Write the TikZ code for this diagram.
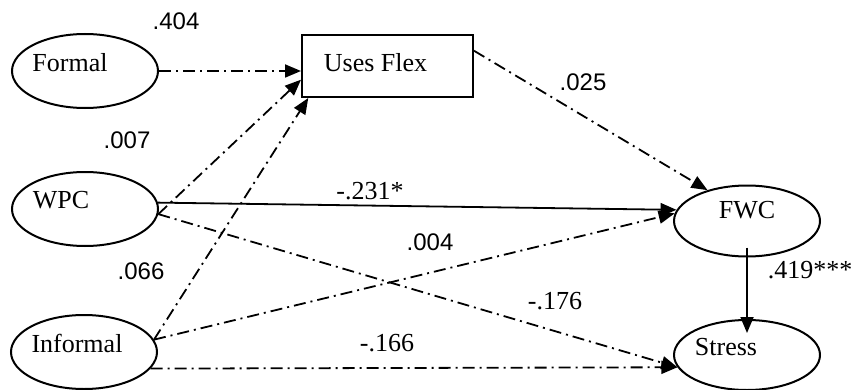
\documentclass[tikz,border=0pt]{standalone}
\usepackage{fontspec}
\setmainfont{Liberation Serif}
\setsansfont{Liberation Sans}
\usetikzlibrary{arrows.meta, shapes.geometric, positioning, calc}

\begin{document}
\begin{tikzpicture}[x=0.5pt, y=-0.5pt,
    var/.style={ellipse, draw=black, line width=1pt, minimum width=73pt, minimum height=37pt, inner sep=0pt},
    blk/.style={rectangle, draw=black, line width=1pt, minimum width=85.5pt, minimum height=31pt},
    txt/.style={font=\fontsize{13}{15}\selectfont},
    e/.style={-{Triangle[length=8pt, width=6.5pt]}, line width=0.9pt},
    dd/.style={e, dash pattern=on 6pt off 2.5pt on 1pt off 2.5pt},
    lab/.style={font=\fontsize{13}{15}\selectfont},
    labs/.style={font=\sffamily\fontsize{12}{14}\selectfont},
]
    \useasboundingbox (0,0) rectangle (855,390);
    \node[var, label={[txt, xshift=-7.5pt, yshift=4pt]center:Formal}] (formal) at (85,71) {};
    \node[var, label={[txt, xshift=-12pt, yshift=4.5pt]center:WPC}] (wpc) at (85,209) {};
    \node[var, label={[txt, xshift=-3.5pt, yshift=4.5pt]center:Informal}] (informal) at (84,352) {};
    \node[blk, label={[txt, xshift=-6pt, yshift=1.5pt]center:Uses Flex}] (flex) at (387.5,66) {};
    \node[var, minimum height=35.5pt, label={[txt, yshift=5.5pt]center:FWC}] (fwc) at (747,221) {};
    \node[var, minimum height=35pt, label={[txt, xshift=-10.5pt, yshift=4pt]center:Stress}] (stress) at (747,355) {};
    \node[labs] (l1) at (176,21) {.404};
    \node[labs] (l2) at (127,140) {.007};
    \node[labs] (l3) at (141,271) {.066};
    \node[lab] (l4) at (370,191) {-.231*};
    \node[labs] (l5) at (430,242) {.004};
    \node[lab] (l6) at (555,301) {-.176};
    \node[lab] (l7) at (387,343) {-.166};
    \node[labs] (l8) at (583,82) {.025};
    \node[lab] (l9) at (810,270) {.419***};
    \draw[dd] (formal.east) -- (formal.east -| flex.west);
    \draw[dd] (wpc.-4) -- (flex.189);
    \draw[dd] (informal.10) -- (flex.202);
    \draw[e] (wpc.5) -- (fwc.171);
    \draw[dd] (wpc.-4) -- (stress.190);
    \draw[dd] (informal.10) -- (fwc.174);
    \draw[dd] (informal.-14) -- (stress.190);
    \draw[dd] (flex.10) -- (fwc.142);
    \draw[e, shorten <=-5pt, shorten >=-7pt] (fwc.south) -- (stress.north);
\end{tikzpicture}
\end{document}
